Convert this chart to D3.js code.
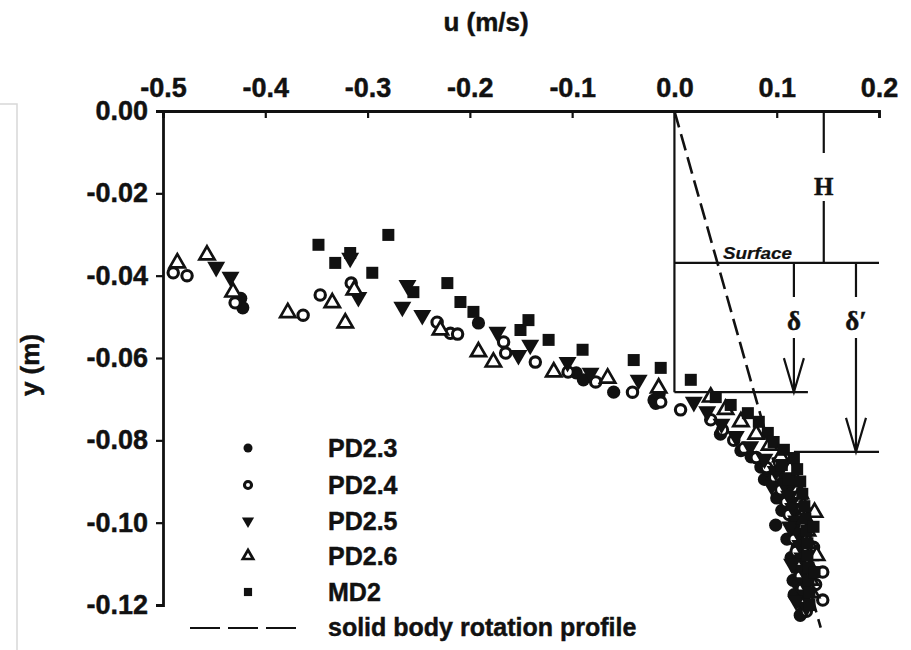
<!DOCTYPE html>
<html>
<head>
<meta charset="utf-8">
<script src="https://cdn.jsdelivr.net/npm/d3@7"></script>
<style>
  html, body { margin: 0; padding: 0; background: #fff; }
  svg { display: block; }
</style>
</head>
<body>
<svg id="chart" width="911" height="650"></svg>
<script>
// ---------- data ----------
const uTicks = [-0.5, -0.4, -0.3, -0.2, -0.1, 0.0, 0.1, 0.2];
const yTicks = [0.00, -0.02, -0.04, -0.06, -0.08, -0.10, -0.12];
const seriesNames = ["PD2.3", "PD2.4", "PD2.5", "PD2.6", "MD2"];

const pd23 = [[-0.424,-0.0455],[-0.422,-0.0478],[-0.1916,-0.0515],[-0.096,-0.0636],[-0.089,-0.0653],
  [-0.0594,-0.0683],[-0.020,-0.0702],[-0.0183,-0.0710],[-0.015,-0.0688],[0.045,-0.0785],[0.065,-0.0825],
  [0.075,-0.0840],[0.0845,-0.0865],[0.088,-0.0895],[0.0913,-0.0872],[0.095,-0.0900],[0.100,-0.0940],
  [0.105,-0.0970],[0.104,-0.0885],[0.112,-0.0910],[0.115,-0.0940],[0.118,-0.0970],[0.099,-0.1006],
  [0.117,-0.1005],[0.121,-0.1030],[0.110,-0.1040],[0.120,-0.1060],[0.123,-0.1090],[0.114,-0.1085],
  [0.119,-0.1110],[0.124,-0.1130],[0.116,-0.1140],[0.121,-0.1150],[0.125,-0.1170],[0.117,-0.1175],
  [0.122,-0.1190],[0.126,-0.1215],[0.123,-0.1225]];
const pd24 = [[-0.490,-0.0393],[-0.4765,-0.0400],[-0.4295,-0.0466],[-0.363,-0.0496],[-0.3463,-0.0447],
  [-0.316,-0.0418],[-0.232,-0.0513],[-0.219,-0.0540],[-0.212,-0.0542],[-0.167,-0.0561],[-0.165,-0.0588],
  [-0.136,-0.0610],[-0.104,-0.0634],[-0.077,-0.0658],[-0.041,-0.0683],[-0.0134,-0.0707],[0.006,-0.0726],
  [0.0355,-0.0750],[0.047,-0.0775],[0.058,-0.0800],[0.068,-0.0819],[0.080,-0.0842],[0.090,-0.0866],
  [0.098,-0.0890],[0.104,-0.0920],[0.109,-0.0950],[0.112,-0.0980],[0.115,-0.1010],[0.117,-0.1040],
  [0.119,-0.1070],[0.121,-0.1100],[0.145,-0.1120],[0.123,-0.1130],[0.125,-0.1160],[0.145,-0.1188],
  [0.127,-0.1190],[0.129,-0.1215],[0.136,-0.1060],[0.138,-0.1150]];
const pd25 = [[-0.448,-0.0379],[-0.434,-0.0403],[-0.317,-0.0357],[-0.309,-0.0452],[-0.261,-0.0423],
  [-0.266,-0.0476],[-0.2465,-0.0496],[-0.173,-0.0537],[-0.1525,-0.0593],[-0.141,-0.0568],[-0.1045,-0.0610],
  [-0.082,-0.0636],[-0.035,-0.0653],[0.019,-0.0707],[0.032,-0.0730],[0.046,-0.0760],[0.060,-0.0790],
  [0.074,-0.0815],[0.088,-0.0845],[0.095,-0.0910],[0.099,-0.0875],[0.107,-0.0905],[0.112,-0.0935],
  [0.116,-0.0965],[0.119,-0.0995],[0.121,-0.1025],[0.123,-0.1055],[0.125,-0.1085],[0.126,-0.1115],
  [0.127,-0.1145],[0.128,-0.1175],[0.129,-0.1205],[0.113,-0.1010],[0.115,-0.1100],[0.119,-0.1190]];
const pd26 = [[-0.486,-0.0369],[-0.457,-0.0350],[-0.4315,-0.0440],[-0.378,-0.0490],[-0.3345,-0.0466],
  [-0.3218,-0.0515],[-0.313,-0.0435],[-0.2288,-0.0532],[-0.1916,-0.0585],[-0.177,-0.0610],[-0.118,-0.0634],
  [-0.0653,-0.0649],[-0.0154,-0.0673],[0.0355,-0.0695],[0.050,-0.0725],[0.065,-0.0755],[0.080,-0.0785],
  [0.093,-0.0812],[0.104,-0.0840],[0.113,-0.0870],[0.119,-0.0900],[0.123,-0.0930],[0.126,-0.0960],
  [0.128,-0.0990],[0.130,-0.1020],[0.131,-0.1050],[0.132,-0.1080],[0.133,-0.1110],[0.133,-0.1140],
  [0.134,-0.1170],[0.137,-0.0975],[0.139,-0.1080]];
const md2 = [[-0.348,-0.0325],[-0.3316,-0.0369],[-0.317,-0.0345],[-0.2954,-0.0393],[-0.2797,-0.0301],
  [-0.2552,-0.0440],[-0.222,-0.0418],[-0.2092,-0.0464],[-0.1965,-0.0488],[-0.1505,-0.0532],[-0.1427,-0.0508],
  [-0.123,-0.0556],[-0.0898,-0.0580],[-0.0398,-0.0605],[-0.0134,-0.0624],[0.016,-0.0653],[0.0404,-0.0695],
  [0.055,-0.0714],[0.0718,-0.0734],[0.0825,-0.0755],[0.0913,-0.0782],[0.097,-0.0804],[0.107,-0.0823],
  [0.105,-0.0860],[0.112,-0.0895],[0.1168,-0.0843],[0.120,-0.0870],[0.123,-0.0900],[0.125,-0.0930],
  [0.127,-0.0960],[0.128,-0.0990],[0.129,-0.1020],[0.130,-0.1050],[0.130,-0.1080],[0.131,-0.1110],
  [0.131,-0.1140],[0.132,-0.1170],[0.132,-0.1200],[0.136,-0.1010],[0.137,-0.1120]];

// solid body rotation profile (end points)
const solidBody = [[0.0, 0.0], [0.143, -0.1255]];

// inset schematic levels (data units)
const surfaceY = -0.0369, deltaY = -0.0683, deltaPrimeY = -0.0828;
const hU = 0.146, deltaU = 0.1168, deltaPrimeU = 0.1775;

// ---------- drawing ----------
const ink = "#111";
const sans = "'Liberation Sans', Arial, sans-serif";
const serif = "'Liberation Serif', 'Times New Roman', serif";
const svg = d3.select("#chart");
const x = d3.scaleLinear().domain([-0.5, 0.2]).range([163, 879]);
const y = d3.scaleLinear().domain([0, -0.12]).range([111, 605]);

function styleText(sel, size, family) {
  return sel.style("font-family", family || sans).style("font-weight", "bold").style("font-size", size + "px")
    .style("fill", ink).style("stroke", ink).style("stroke-width", "0.45px");
}

// faint scan border
svg.append("path").attr("d", "M0,104H17V650").attr("fill", "none").attr("stroke", "#d8d8d8").attr("stroke-width", 1.5);

// axes
const gTop = svg.append("g").attr("transform", `translate(0,${y(0)})`)
  .call(d3.axisTop(x).tickValues(uTicks).tickSize(-7).tickPadding(14).tickFormat(d => d.toFixed(1)));
const gLeft = svg.append("g").attr("transform", `translate(${x(-0.5)},0)`)
  .call(d3.axisLeft(y).tickValues(yTicks).tickSize(7).tickPadding(8).tickFormat(d => d.toFixed(2)));
[gTop, gLeft].forEach(g => {
  g.select(".domain").attr("stroke", ink).attr("stroke-width", 2.8);
  g.selectAll(".tick line").attr("stroke", ink).attr("stroke-width", 2.2);
  styleText(g.selectAll(".tick text"), 27);
});

styleText(svg.append("text").attr("x", 486).attr("y", 31).attr("text-anchor", "middle"), 26).text("u (m/s)");
styleText(svg.append("text").attr("transform", "translate(39,365) rotate(-90)").attr("text-anchor", "middle"), 26).text("y (m)");

// inset schematic
const ann = svg.append("g").attr("stroke", ink).attr("stroke-width", 2.2).attr("fill", "none");
ann.append("line").attr("x1", x(0)).attr("x2", x(0)).attr("y1", y(0)).attr("y2", y(deltaY));
ann.append("line").attr("x1", x(0)).attr("x2", x(0.2)).attr("y1", y(surfaceY)).attr("y2", y(surfaceY));
ann.append("line").attr("x1", x(0)).attr("x2", x(0.1305)).attr("y1", y(deltaY)).attr("y2", y(deltaY));
ann.append("line").attr("x1", x(deltaU)).attr("x2", x(0.2)).attr("y1", y(deltaPrimeY)).attr("y2", y(deltaPrimeY));
// H
ann.append("line").attr("x1", x(hU)).attr("x2", x(hU)).attr("y1", y(0)).attr("y2", 153);
ann.append("line").attr("x1", x(hU)).attr("x2", x(hU)).attr("y1", 201).attr("y2", y(surfaceY));
styleText(svg.append("text").attr("x", x(hU)).attr("y", 195).attr("text-anchor", "middle"), 25, serif).text("H");
// delta
function deltaArrow(u, yEnd, labelY, label) {
  const cx = x(u);
  ann.append("line").attr("x1", cx).attr("x2", cx).attr("y1", y(surfaceY)).attr("y2", labelY - 33);
  ann.append("line").attr("x1", cx).attr("x2", cx).attr("y1", labelY + 8).attr("y2", y(yEnd));
  ann.append("path").attr("d", `M${cx - 10},${y(yEnd) - 34}L${cx},${y(yEnd)}L${cx + 10},${y(yEnd) - 34}`);
  styleText(svg.append("text").attr("x", cx).attr("y", labelY).attr("text-anchor", "middle"), 27, serif).text(label);
}
deltaArrow(deltaU, deltaY, 330, "δ");
deltaArrow(deltaPrimeU, deltaPrimeY, 330, "δ′");
styleText(svg.append("text").attr("x", 723).attr("y", 259).attr("textLength", 69).attr("lengthAdjust", "spacingAndGlyphs"), 16)
  .style("font-style", "italic").style("stroke-width", "0.2px").text("Surface");

// solid body rotation dashed line
svg.append("path").datum(solidBody)
  .attr("d", d3.line().x(d => x(d[0])).y(d => y(d[1])))
  .attr("fill", "none").attr("stroke", ink).attr("stroke-width", 2.6).attr("stroke-dasharray", "17,7");

// markers
const triUp = d3.symbol().type(d3.symbolTriangle);
function drawMarker(g, kind, big) {
  const s = big ? 1 : 0.68;
  if (kind === 0) g.append("circle").attr("r", 6.6 * s).attr("fill", ink);
  else if (kind === 1) g.append("circle").attr("r", 5.2 * s).attr("fill", "#fff").attr("stroke", ink).attr("stroke-width", 3.1);
  else if (kind === 2) g.append("path").attr("d", triUp.size(140 * s * s)()).attr("transform", "rotate(180)").attr("fill", ink);
  else if (kind === 3) g.append("path").attr("d", triUp.size(100 * s * s)()).attr("fill", "#fff").attr("stroke", ink).attr("stroke-width", 2.7);
  else g.append("rect").attr("x", -6 * s).attr("y", -6 * s).attr("width", 12 * s).attr("height", 12 * s).attr("fill", ink);
}
const allSeries = [pd23, pd24, pd25, pd26, md2];
allSeries.forEach((data, k) => {
  const g = svg.append("g").attr("class", "series-" + k);
  g.selectAll("g").data(data).join("g")
    .attr("transform", d => `translate(${x(d[0])},${y(d[1])})`)
    .each(function () { drawMarker(d3.select(this), k, true); });
});

// legend
const legRows = [448, 485, 521, 556, 592];
seriesNames.forEach((name, k) => {
  const g = svg.append("g").attr("transform", `translate(248,${legRows[k]})`);
  drawMarker(g, k, false);
  styleText(svg.append("text").attr("x", 328).attr("y", legRows[k] + 9), 25).text(name);
});
svg.append("line").attr("x1", 190).attr("x2", 296).attr("y1", 628).attr("y2", 628)
  .attr("stroke", ink).attr("stroke-width", 2.2).attr("stroke-dasharray", "30,8");
styleText(svg.append("text").attr("x", 328).attr("y", 636), 25).text("solid body rotation profile");
</script>
</body>
</html>
